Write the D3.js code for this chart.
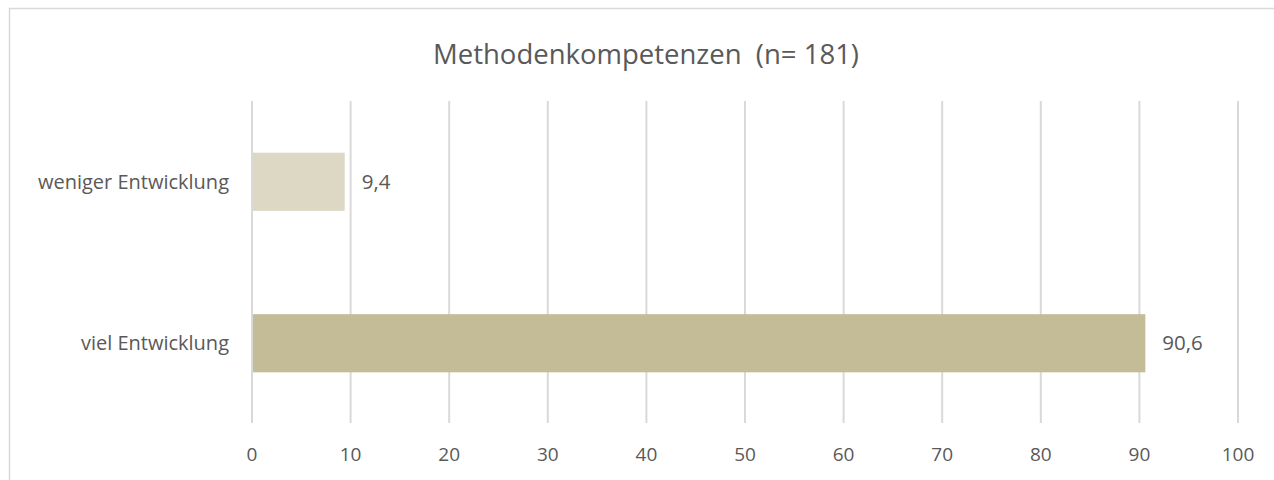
<!DOCTYPE html>
<html>
<head>
<meta charset="utf-8">
<script src="https://cdn.jsdelivr.net/npm/d3@7"></script>
<style>
  body { margin: 0; background: #fff; }
  text { font-family: "Open Sans", sans-serif; fill: #595959; white-space: pre; }
</style>
</head>
<body>
<svg id="chart" width="1274" height="480"></svg>
<script>
var categories = ["weniger Entwicklung", "viel Entwicklung"];
var values = [9.4, 90.6];
var barColors = ["#ddd8c3", "#c4bc96"];
var ticks = [0, 10, 20, 30, 40, 50, 60, 70, 80, 90, 100];
var title = "Methodenkompetenzen  (n= 181)";

var svg = d3.select("#chart"),
    width = +svg.attr("width"),
    height = +svg.attr("height");

// outer frame
svg.append("rect")
    .attr("x", 9.5).attr("y", 8.5)
    .attr("width", width).attr("height", height)
    .attr("fill", "none")
    .attr("stroke", "#d9d9d9")
    .attr("stroke-width", 1.5);

var x = d3.scaleLinear().domain([0, 100]).range([252, 1238]);
var y = d3.scaleBand().domain(categories).range([101, 424]).paddingInner(0.64).paddingOuter(0.32);

// grid
svg.append("g").selectAll("line")
    .data(ticks)
    .enter().append("line")
    .attr("x1", function(d) { return x(d); })
    .attr("x2", function(d) { return x(d); })
    .attr("y1", 101).attr("y2", 423)
    .attr("stroke", "#d9d9d9")
    .attr("stroke-width", 2);

// tick labels
svg.append("g").selectAll("text")
    .data(ticks)
    .enter().append("text")
    .attr("x", function(d) { return x(d); })
    .attr("y", 461)
    .attr("text-anchor", "middle")
    .attr("font-size", 19)
    .text(function(d) { return d; });

// bars
svg.append("g").selectAll("rect")
    .data(values)
    .enter().append("rect")
    .attr("x", x(0) + 1)
    .attr("y", function(d, i) { return y(categories[i]); })
    .attr("width", function(d) { return x(d) - x(0) - 1; })
    .attr("height", y.bandwidth())
    .attr("fill", function(d, i) { return barColors[i]; });

// value labels
svg.append("g").selectAll("text")
    .data(values)
    .enter().append("text")
    .attr("x", function(d) { return x(d) + 17; })
    .attr("y", function(d, i) { return y(categories[i]) + y.bandwidth() / 2 + 7; })
    .attr("font-size", 20.5)
    .text(function(d) { return String(d).replace(".", ","); });

// category labels
svg.append("g").selectAll("text")
    .data(categories)
    .enter().append("text")
    .attr("x", 229)
    .attr("y", function(d) { return y(d) + y.bandwidth() / 2 + 7; })
    .attr("text-anchor", "end")
    .attr("font-size", 20)
    .text(function(d) { return d; });

// title
svg.append("text")
    .attr("x", 646)
    .attr("y", 64)
    .attr("text-anchor", "middle")
    .attr("font-size", 27.5)
    .text(title);
</script>
</body>
</html>
